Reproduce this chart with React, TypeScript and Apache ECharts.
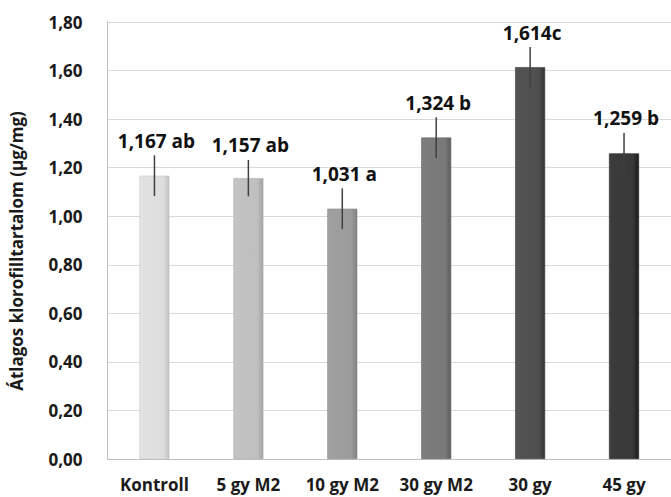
import React, { useEffect, useRef } from "react";
import * as echarts from "echarts";

// Treatment groups and mean chlorophyll content (µg/mg) with error half-widths
const categories = ["Kontroll", "5 gy M2", "10 gy M2", "30 gy M2", "30 gy", "45 gy"];
const means = [1.167, 1.157, 1.031, 1.324, 1.614, 1.259];
const errors = [0.084, 0.075, 0.084, 0.084, 0.083, 0.084];
const groupLetters = [" ab", " ab", " a", " b", "c", " b"];
const yTicks = [0, 0.2, 0.4, 0.6, 0.8, 1.0, 1.2, 1.4, 1.6, 1.8];

// Grey level of each bar, light to dark
const barGreys = [222, 191, 156, 121, 79, 56];

const FONT = '"Open Sans", "Noto Sans", sans-serif';

const grey = (g: number) => {
  const c = Math.max(0, Math.min(255, Math.round(g)));
  return `rgb(${c},${c},${c})`;
};

const comma = (v: number, digits: number) => v.toFixed(digits).replace(".", ",");

export default function App() {
  const ref = useRef<HTMLDivElement>(null);

  useEffect(() => {
    if (!ref.current) return;
    const chart = echarts.init(ref.current, undefined, { renderer: "svg" });

    const barData = means.map((v, i) => {
      const g = barGreys[i];
      return {
        value: v,
        itemStyle: {
          color: new echarts.graphic.LinearGradient(0, 0, 1, 0, [
            { offset: 0, color: grey(g + 6) },
            { offset: 0.15, color: grey(g + 3) },
            { offset: 0.8, color: grey(g) },
            { offset: 1, color: grey(g - 28) },
          ]),
          borderColor: grey(g - 20),
          borderWidth: 0.6,
        },
      };
    });

    const errData = means.map((v, i) => [i, v, errors[i]]);

    chart.setOption({
      animation: false,
      backgroundColor: "#ffffff",
      textStyle: { fontFamily: FONT },
      grid: { left: 107.5, right: -9, top: 22, bottom: 38, containLabel: false },
      xAxis: {
        type: "category",
        data: categories,
        axisLine: { lineStyle: { color: "#bfbfbf", width: 1 } },
        axisTick: { show: false },
        axisLabel: {
          color: "#1a1a1a",
          fontWeight: "bold",
          fontSize: 17,
          fontFamily: FONT,
          margin: 17,
          interval: 0,
        },
      },
      yAxis: {
        type: "value",
        min: yTicks[0],
        max: yTicks[yTicks.length - 1],
        interval: 0.2,
        axisLine: { show: true, lineStyle: { color: "#bfbfbf", width: 1 } },
        axisTick: { show: false },
        splitLine: { lineStyle: { color: "#d9d9d9", width: 1 } },
        axisLabel: {
          color: "#1a1a1a",
          fontWeight: "bold",
          fontSize: 17,
          fontFamily: FONT,
          margin: 25,
          formatter: (v: number) => comma(v, 2),
        },
      },
      graphic: [
        {
          type: "text",
          x: 16,
          y: 251,
          rotation: Math.PI / 2,
          style: {
            text: "Átlagos klorofilltartalom (µg/mg)",
            font: `bold 17px ${FONT}`,
            fill: "#1a1a1a",
            align: "center",
            verticalAlign: "middle",
          },
        },
      ],
      series: [
        {
          type: "bar",
          data: barData,
          barWidth: 30,
        },
        {
          type: "custom",
          data: errData,
          encode: { x: 0, y: 1 },
          z: 5,
          renderItem: (params: any, api: any) => {
            const i = api.value(0);
            const v = api.value(1);
            const e = api.value(2);
            const top = api.coord([i, v + e]);
            const bot = api.coord([i, v - e]);
            return {
              type: "group",
              children: [
                {
                  type: "line",
                  shape: { x1: top[0], y1: top[1], x2: bot[0], y2: bot[1] },
                  style: { stroke: "#404040", lineWidth: 1.5 },
                },
                {
                  type: "text",
                  x: top[0] + 2,
                  y: top[1] - 5,
                  style: {
                    text: comma(means[params.dataIndex], 3) + groupLetters[params.dataIndex],
                    font: `bold 19px ${FONT}`,
                    fill: "#111111",
                    align: "center",
                    verticalAlign: "bottom",
                  },
                },
              ],
            };
          },
        },
      ],
    });

    return () => chart.dispose();
  }, []);

  return (
    <div
      ref={ref}
      style={{ position: "fixed", left: 0, top: 0, width: 671, height: 497 }}
    />
  );
}
